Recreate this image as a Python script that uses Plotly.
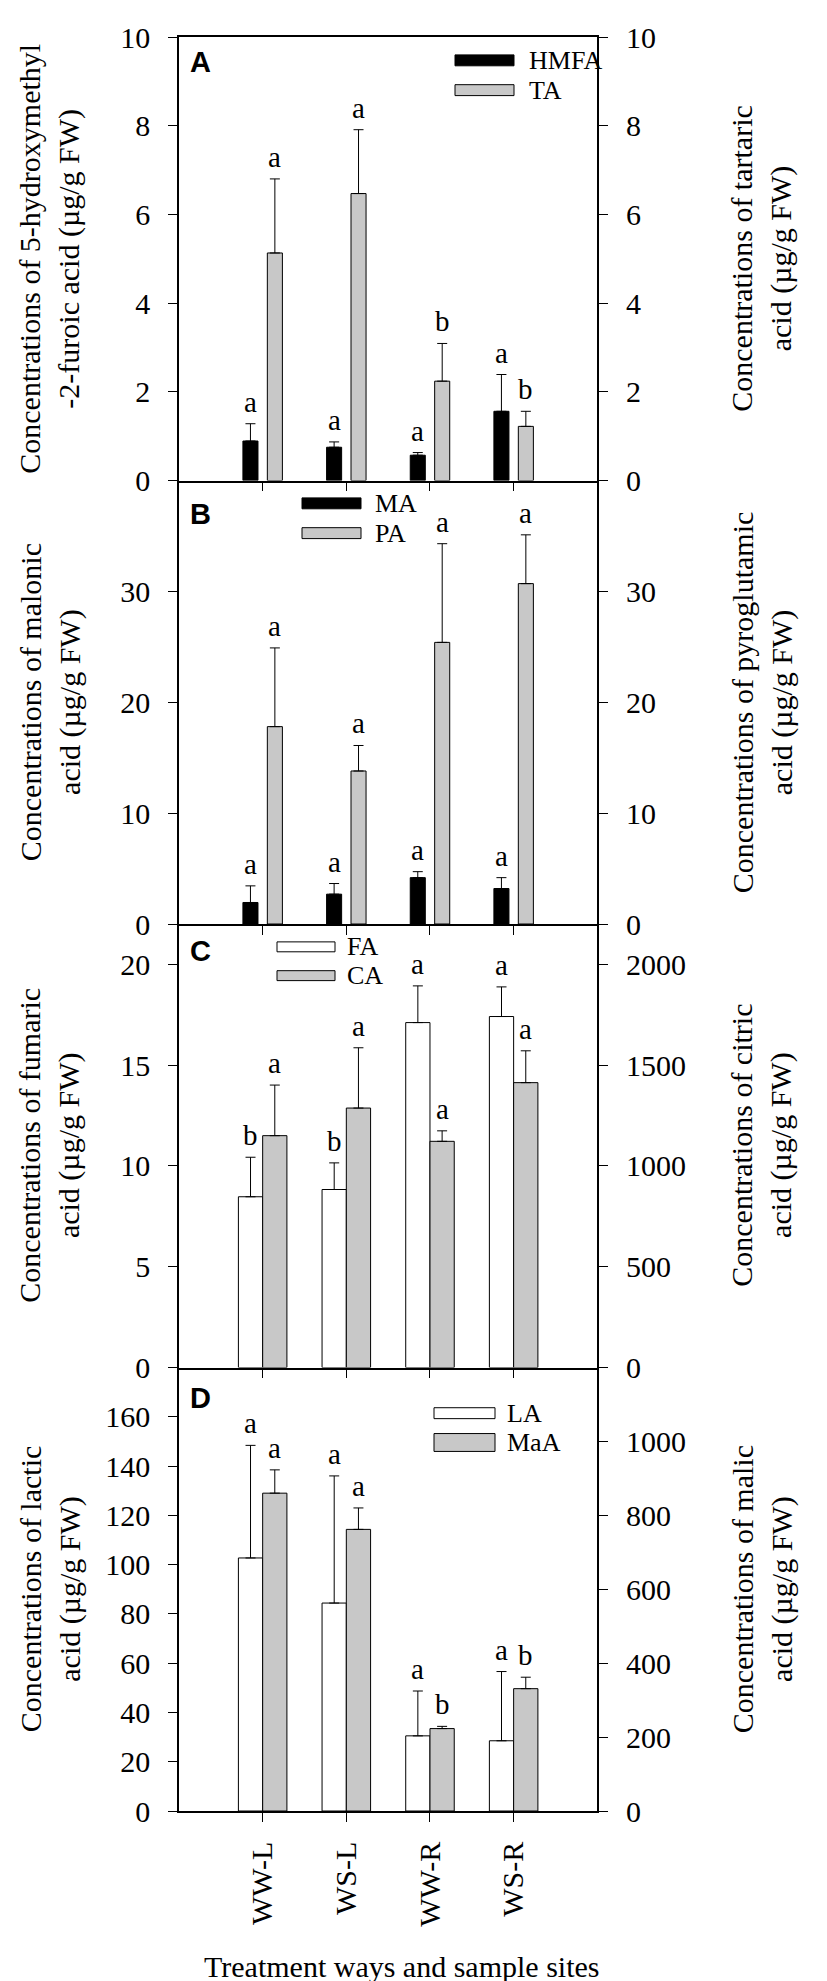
import plotly.graph_objects as go
from plotly.subplots import make_subplots

categories = ["WW-L", "WS-L", "WW-R", "WS-R"]

# Panel A
hmfa = [0.89, 0.75, 0.57, 1.56]
hmfa_err = [0.39, 0.12, 0.06, 0.83]
hmfa_sig = ["a", "a", "a", "a"]
ta = [5.13, 6.47, 2.24, 1.22]
ta_err = [1.67, 1.44, 0.85, 0.34]
ta_sig = ["a", "a", "b", "b"]

# Panel B
ma = [1.94, 2.69, 4.18, 3.20]
ma_err = [1.50, 0.96, 0.54, 0.98]
ma_sig = ["a", "a", "a", "a"]
pa = [17.8, 13.8, 25.4, 30.7]
pa_err = [7.1, 2.3, 8.9, 4.4]
pa_sig = ["a", "a", "a", "a"]

# Panel C
fa = [8.47, 8.83, 17.11, 17.41]
fa_err = [1.96, 1.32, 1.82, 1.47]
fa_sig = ["b", "b", "a", "a"]
ca = [1150, 1287, 1122, 1413]
ca_err = [251, 299, 52, 158]
ca_sig = ["a", "a", "a", "a"]

# Panel D
la = [102.7, 84.4, 30.5, 28.5]
la_err = [45.7, 51.6, 18.2, 28.1]
la_sig = ["a", "a", "a", "a"]
maa = [860, 762, 223, 331]
maa_err = [63, 58, 6, 31]
maa_sig = ["a", "a", "b", "b"]

left_ticks_a = [0, 2, 4, 6, 8, 10]
left_ticks_b = [0, 10, 20, 30]
left_ticks_c = [0, 5, 10, 15, 20]
right_ticks_c = [0, 500, 1000, 1500, 2000]
left_ticks_d = [0, 20, 40, 60, 80, 100, 120, 140, 160]
right_ticks_d = [0, 200, 400, 600, 800, 1000]

W, H = 827, 1981
ML, MR, MT, MB = 171, 211, 17, 178
PW, PH = W - ML - MR, H - MT - MB
SERIF = "Liberation Serif"
GRAY = "#c8c8c8"


def px(xp):
    return (xp - ML) / PW


def py(yp):
    return (H - MB - yp) / PH


panels = [
    dict(letter="A", ltop=7,
         left=dict(name="HMFA", v=hmfa, e=hmfa_err, s=hmfa_sig, color="black"),
         right=dict(name="TA", v=ta, e=ta_err, s=ta_sig, color=GRAY),
         lrange=[0, 10], lticks=left_ticks_a, rrange=[0, 10], rticks=left_ticks_a,
         ltitle="Concentrations of 5-hydroxymethyl<br>-2-furoic acid (µg/g FW)",
         rtitle="Concentrations of tartaric<br>acid (µg/g FW)",
         width=0.18, offs=(-0.236, 0.056),
         leg=dict(x0=447, x1=506, ys=[(35, 46), (65, 76)], tx=519)),
    dict(letter="B", ltop=16,
         left=dict(name="MA", v=ma, e=ma_err, s=ma_sig, color="black"),
         right=dict(name="PA", v=pa, e=pa_err, s=pa_sig, color=GRAY),
         lrange=[0, 40], lticks=left_ticks_b, rrange=[0, 40], rticks=left_ticks_b,
         ltitle="Concentrations of malonic<br>acid (µg/g FW)",
         rtitle="Concentrations of pyroglutamic<br>acid (µg/g FW)",
         width=0.18, offs=(-0.236, 0.056),
         leg=dict(x0=294, x1=353, ys=[(481, 492), (511, 522)], tx=365)),
    dict(letter="C", ltop=9,
         left=dict(name="FA", v=fa, e=fa_err, s=fa_sig, color="white"),
         right=dict(name="CA", v=ca, e=ca_err, s=ca_sig, color=GRAY),
         lrange=[0, 22], lticks=left_ticks_c, rrange=[0, 2200], rticks=right_ticks_c,
         ltitle="Concentrations of fumaric<br>acid (µg/g FW)",
         rtitle="Concentrations of citric<br>acid (µg/g FW)",
         width=0.29, offs=(-0.29, 0.0),
         leg=dict(x0=269, x1=327, ys=[(928, 938), (957, 967)], tx=337)),
    dict(letter="D", ltop=13,
         left=dict(name="LA", v=la, e=la_err, s=la_sig, color="white"),
         right=dict(name="MaA", v=maa, e=maa_err, s=maa_sig, color=GRAY),
         lrange=[0, 180], lticks=left_ticks_d, rrange=[0, 1200], rticks=right_ticks_d,
         ltitle="Concentrations of lactic<br>acid (µg/g FW)",
         rtitle="Concentrations of malic<br>acid (µg/g FW)",
         width=0.29, offs=(-0.29, 0.0),
         leg=dict(x0=426, x1=487, ys=[(1397, 1408), (1423, 1441)], tx=497)),
]

fig = make_subplots(rows=4, cols=1, shared_xaxes=True, vertical_spacing=0,
                    specs=[[{"secondary_y": True}]] * 4)

xs = list(range(len(categories)))
annotations = []
shapes = []

axis_style = dict(showline=True, linecolor="black", linewidth=1.5, ticks="outside",
                  ticklen=9, tickwidth=1.3, tickcolor="black", showgrid=False,
                  zeroline=False, ticklabelstandoff=12,
                  tickfont=dict(family=SERIF, size=30, color="black"))

for r, p in enumerate(panels, start=1):
    ly = "y" if r == 1 else f"y{2 * r - 1}"
    ry = f"y{2 * r}"
    xr = "x" if r == 1 else f"x{r}"
    for side, off, sec, yref in (("left", p["offs"][0], False, ly),
                                 ("right", p["offs"][1], True, ry)):
        s = p[side]
        fig.add_trace(go.Bar(
            x=xs, y=s["v"], name=s["name"], width=p["width"], offset=off,
            marker=dict(color=s["color"], line=dict(color="black", width=1)),
            error_y=dict(type="data", array=s["e"], arrayminus=[0] * len(xs),
                         symmetric=False, color="black", thickness=1, width=5),
            showlegend=False), row=r, col=1, secondary_y=sec)
        for i in xs:
            annotations.append(dict(
                x=i + off + p["width"] / 2, y=s["v"][i] + s["e"][i], xref=xr, yref=yref,
                text=s["s"][i], showarrow=False, xanchor="center", yanchor="bottom",
                yshift=4, font=dict(family=SERIF, size=29, color="black")))
    fig.update_yaxes(range=p["lrange"], tickvals=p["lticks"], row=r, col=1,
                     secondary_y=False, **axis_style)
    fig.update_yaxes(range=p["rrange"], tickvals=p["rticks"], row=r, col=1,
                     secondary_y=True, **axis_style)
    top_px = MT + (r - 1) * PH / 4
    mid_px = top_px + PH / 8
    annotations.append(dict(x=px(42), y=py(mid_px), xref="paper", yref="paper",
                            text=p["ltitle"], textangle=-90, showarrow=False,
                            xanchor="center", yanchor="middle",
                            font=dict(family=SERIF, size=30, color="black")))
    annotations.append(dict(x=px(754), y=py(mid_px), xref="paper", yref="paper",
                            text=p["rtitle"], textangle=-90, showarrow=False,
                            xanchor="center", yanchor="middle",
                            font=dict(family=SERIF, size=30, color="black")))
    annotations.append(dict(x=px(180), y=py(top_px + p["ltop"]), xref="paper", yref="paper",
                            text="<b>" + p["letter"] + "</b>", showarrow=False,
                            xanchor="left", yanchor="top",
                            font=dict(family="Liberation Sans", size=29, color="black")))
    lg = p["leg"]
    for k, side in enumerate(("left", "right")):
        y0, y1 = lg["ys"][k]
        shapes.append(dict(type="rect", xref="paper", yref="paper",
                           x0=px(lg["x0"]), x1=px(lg["x1"]), y0=py(y1), y1=py(y0),
                           fillcolor=p[side]["color"], line=dict(color="black", width=1)))
        annotations.append(dict(x=px(lg["tx"]), y=py((y0 + y1) / 2), xref="paper", yref="paper",
                                text=p[side]["name"], showarrow=False, xanchor="left",
                                yanchor="middle",
                                font=dict(family=SERIF, size=26, color="black")))

x_style = dict(axis_style)
x_style["ticklabelstandoff"] = 8
fig.update_xaxes(range=[-1, 4], tickvals=xs, ticktext=categories,
                 showticklabels=False, **x_style)
fig.update_xaxes(mirror=True, row=1, col=1)
fig.update_xaxes(showticklabels=True, tickangle=-90, row=4, col=1)

annotations.append(dict(x=0.5, y=py(1960), xref="paper", yref="paper",
                        text="Treatment ways and sample sites", showarrow=False,
                        xanchor="center", yanchor="middle",
                        font=dict(family=SERIF, size=30, color="black")))

fig.update_layout(width=W, height=H, autosize=False,
                  margin=dict(l=ML, r=MR, t=MT, b=MB, pad=0),
                  plot_bgcolor="white", paper_bgcolor="white",
                  showlegend=False, annotations=annotations, shapes=shapes,
                  barmode="overlay")

fig.write_html("out.html")
